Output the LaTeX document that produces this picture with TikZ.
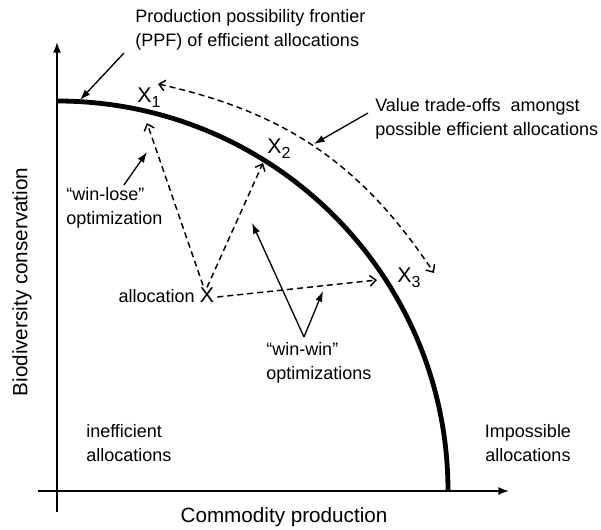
\documentclass[tikz,border=0pt]{standalone}
\usepackage{fontspec}
\setmainfont{Liberation Sans}
\usetikzlibrary{arrows,arrows.meta}
\newcommand{\xsub}[1]{{\fontsize{16}{18}\selectfont X}\raisebox{-0.5ex}{\fontsize{12}{13}\selectfont #1}}

\begin{document}
\begin{tikzpicture}[x=0.75pt,y=-0.75pt,
  font=\fontsize{13.5}{18}\selectfont,
  txt/.style={inner sep=0pt, align=left},
  axis/.style={-{Latex[length=8pt,width=6pt]}, line width=1.2pt},
  pointer/.style={-{Latex[length=8pt,width=5.5pt]}, line width=1pt},
  tradeoff/.style={->, >={Straight Barb[length=4.5pt,width=8pt]}, dash pattern=on 4.5pt off 3pt, line width=1.1pt}]
\useasboundingbox (0,0) rectangle (601,530);
% axes
\draw [axis] (57,512) -- (57,42);
\draw [axis] (38,491) -- (509,491);
\node (xlab) [font=\fontsize{15.5}{18}\selectfont] at (284,517) {Commodity production};
\node (ylab) [rotate=90, font=\fontsize{15.5}{18}\selectfont] at (22,282) {Biodiversity conservation};
% frontier
\coordinate (top) at (57,101);
\draw [line width=3.6pt] (top) arc (-90:0:391 and 390);
% points on the frontier
\node (x1) [txt] at (149,98) {\xsub{1}};
\node (x2) [txt] at (279,149) {\xsub{2}};
\node (x3) [txt] at (409,278) {\xsub{3}};
\node (alloc) [txt, font=\fontsize{16}{18}\selectfont] at (207,295) {X};
\node (alloclab) [txt, anchor=east] at (195,296) {allocation};
\coordinate (t1) at (147,123);
\coordinate (t2) at (263,163);
\coordinate (t3) at (377,280);
\draw [tradeoff] (alloc.north) ++(-4,-2) -- (t1);
\draw [tradeoff] (alloc.north) -- (t2);
\draw [tradeoff] (alloc.east) ++(3,2) -- (t3);
\coordinate (c1) at (158,84);
\coordinate (c3) at (434,273);
\draw [tradeoff, <->] (c1) to [bend left=22] (c3);
% labels
\node (ppf) [txt, anchor=west] at (135,30) {Production possibility frontier\\(PPF) of efficient allocations};
\coordinate (ppftip) at (80,100);
\draw [pointer] (124,53) -- (ppftip);
\node (value) [txt, anchor=west] at (375,119) {Value trade-offs \ amongst\\possible efficient allocations};
\coordinate (valtip) at (314,144);
\draw [pointer] (value.west) ++(-7,-6) -- (valtip);
\node (lose) [txt, anchor=west] at (66,208) {``win-lose''\\optimization};
\coordinate (losetip) at (147,152);
\draw [pointer] (124,185) -- (losetip);
\node (win) [txt, anchor=west] at (266,363) {``win-win''\\optimizations};
\coordinate (winv) at (304,337);
\coordinate (wintipa) at (252,223);
\coordinate (wintipb) at (323,291);
\draw [pointer] (winv) -- (wintipa);
\draw [pointer] (winv) -- (wintipb);
\node (ineff) [txt, anchor=west] at (86,443) {inefficient\\allocations};
\node (imposs) [txt, align=center] at (528,443) {Impossible\\allocations};
\end{tikzpicture}
\end{document}
